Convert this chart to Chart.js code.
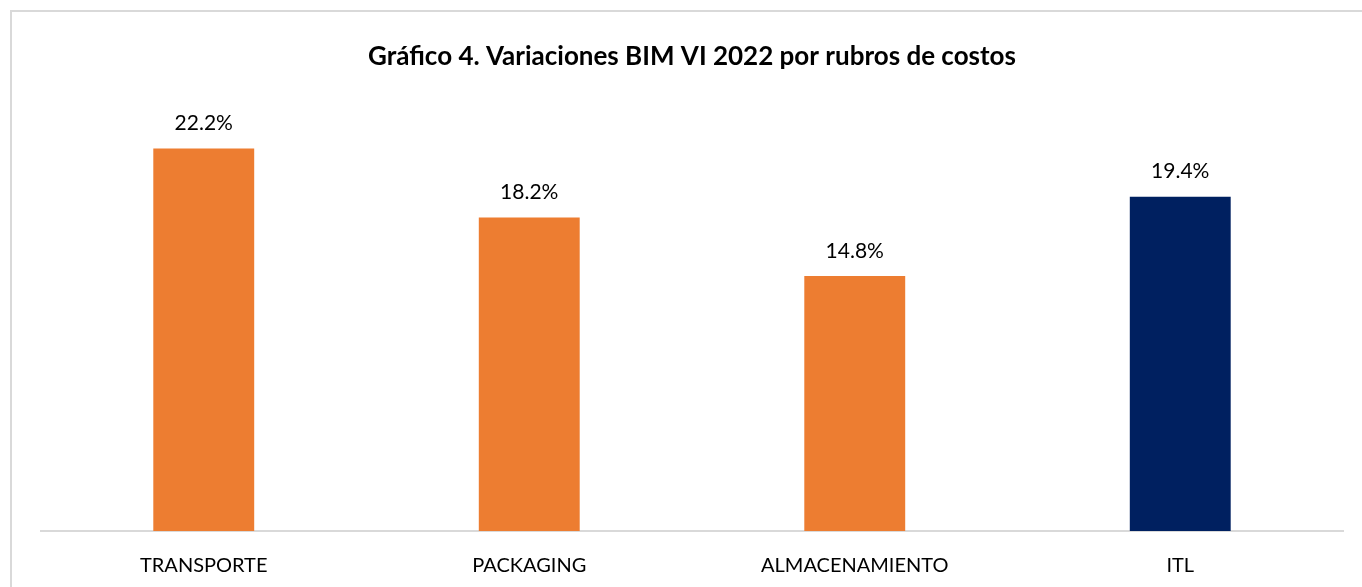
<!DOCTYPE html>
<html>
<head>
<meta charset="utf-8">
<script src="https://cdn.jsdelivr.net/npm/chart.js@4.4.0/dist/chart.umd.min.js"></script>
<style>
  html, body { margin: 0; padding: 0; background: #fff; overflow: hidden; }
  #frame {
    position: absolute; left: 10px; top: 10px; width: 1400px; height: 620px;
    border: 2px solid #d9d9d9; box-sizing: border-box;
  }
  #wrap { position: absolute; left: 0; top: 0; width: 1362px; height: 587px; }
</style>
</head>
<body>
<div id="frame"></div>
<div id="wrap"><canvas id="myChart"></canvas></div>
<script>
const categories = ['TRANSPORTE', 'PACKAGING', 'ALMACENAMIENTO', 'ITL'];
const values = [22.2, 18.2, 14.8, 19.4];
const barColors = ['#ED7D31', '#ED7D31', '#ED7D31', '#002060'];
const titleText = 'Gráfico 4. Variaciones BIM VI 2022 por rubros de costos';
const fontFamily = "Lato, 'Open Sans', sans-serif";

// draws the value above each bar
const valueLabels = {
    id: 'valueLabels',
    afterDatasetsDraw(chart) {
        const ctx = chart.ctx;
        const meta = chart.getDatasetMeta(0);
        ctx.save();
        ctx.font = '21px ' + fontFamily;
        ctx.fillStyle = '#000000';
        ctx.textAlign = 'center';
        ctx.textBaseline = 'middle';
        meta.data.forEach((bar, i) => {
            ctx.fillText(values[i].toFixed(1) + '%', bar.x, bar.y - 25);
        });
        ctx.restore();
    }
};

const ctx = document.getElementById('myChart');
const myChart = new Chart(ctx, {
    type: 'bar',
    data: {
        labels: categories,
        datasets: [{
            data: values,
            backgroundColor: barColors,
            borderWidth: 0,
            barPercentage: 0.31,
            categoryPercentage: 1
        }]
    },
    options: {
        responsive: true,
        maintainAspectRatio: false,
        animation: false,
        layout: {
            padding: { left: 41, right: 19, top: 40, bottom: -14 }
        },
        plugins: {
            legend: { display: false },
            tooltip: { enabled: false },
            title: {
                display: true,
                text: titleText,
                color: '#000000',
                font: { family: fontFamily, size: 26, weight: 'bold' },
                padding: { top: 1, bottom: 28 }
            }
        },
        scales: {
            x: {
                grid: { display: false, drawTicks: false },
                border: { display: true, color: '#d9d9d9', width: 2 },
                ticks: {
                    color: '#000000',
                    padding: 23,
                    font: { family: fontFamily, size: 20 }
                }
            },
            y: {
                display: false,
                min: 0,
                max: 25
            }
        }
    },
    plugins: [valueLabels]
});
</script>
</body>
</html>
